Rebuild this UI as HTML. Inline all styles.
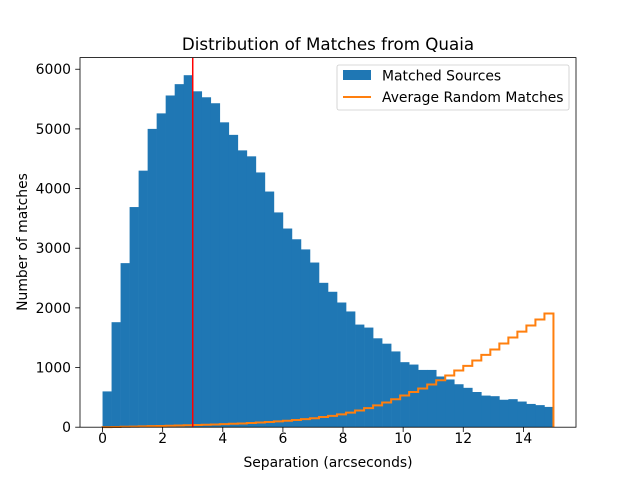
<!DOCTYPE html>
<html><head><meta charset="utf-8"><style>
body{margin:0;background:#fff;}
text{font-family:"DejaVu Sans","Liberation Sans",sans-serif;fill:#000;}
</style></head><body>
<svg id="chart" width="640" height="480" viewBox="0 0 640 480">
<rect x="0" y="0" width="640" height="480" fill="#fff"/>
<g id="bars"></g>
<path id="randline" fill="none" stroke="#ff7f0e" stroke-width="2" stroke-linejoin="miter"/>
<line id="vline" stroke="#ff0000" stroke-width="1.5"/>
<rect x="80" y="57.6" width="496" height="369.6" fill="none" stroke="#000" stroke-width="0.8"/>
<g id="xticks"></g>
<g id="yticks"></g>
<text x="328" y="50" font-size="16.7" text-anchor="middle">Distribution of Matches from Quaia</text>
<text x="328" y="467" font-size="13.9" text-anchor="middle">Separation (arcseconds)</text>
<text transform="translate(27,242) rotate(-90)" font-size="13.9" text-anchor="middle">Number of matches</text>
<g>
<rect x="337" y="65" width="232" height="45" rx="2" fill="#fff" fill-opacity="0.8" stroke="#ccc" stroke-width="0.8"/>
<rect x="343" y="70" width="28" height="10" fill="#1f77b4"/>
<text x="382" y="80.5" font-size="13.9">Matched Sources</text>
<line x1="343" y1="97" x2="371" y2="97" stroke="#ff7f0e" stroke-width="2"/>
<text x="382" y="102" font-size="13.9">Average Random Matches</text>
</g>
</svg>
<script>
const matched=[600,1760,2750,3690,4300,5000,5260,5560,5750,5900,5630,5530,5430,5110,4900,4640,4540,4270,3950,3600,3330,3150,2980,2760,2420,2270,2090,1940,1720,1670,1490,1400,1270,1090,1050,960,960,850,800,720,660,590,530,520,460,470,430,390,370,340];
const randomMatches=[2,4,7,10,13,17,21,25,29,33,37,41,46,51,57,63,70,78,87,97,108,120,135,150,170,190,215,245,280,320,365,414,469,531,591,648,715,787,866,950,1027,1117,1212,1302,1402,1503,1603,1705,1805,1905];
const binStart=0, binWidth=0.3;
const xTicks=[0,2,4,6,8,10,12,14];
const yTicks=[0,1000,2000,3000,4000,5000,6000];
const threshold=3;
const NS='http://www.w3.org/2000/svg';
const maxV=Math.max(...matched,...randomMatches)*1.05;
const X=v=>80+(v+0.75)/16.5*496;
const Y=v=>427.2-v/maxV*369.6;
const bars=document.getElementById('bars');
matched.forEach((v,i)=>{
 const r=document.createElementNS(NS,'rect');
 const x0=X(binStart+i*binWidth),x1=X(binStart+(i+1)*binWidth);
 r.setAttribute('x',x0);r.setAttribute('width',x1-x0+0.3);
 r.setAttribute('y',Y(v));r.setAttribute('height',Y(0)-Y(v));
 r.setAttribute('fill','#1f77b4');
 
 
 bars.appendChild(r);
});
let d='M'+X(binStart)+','+Y(0);
randomMatches.forEach((v,i)=>{d+=' L'+X(binStart+i*binWidth)+','+Y(v)+' L'+X(binStart+(i+1)*binWidth)+','+Y(v);});
d+=' L'+X(binStart+randomMatches.length*binWidth)+','+Y(0);
document.getElementById('randline').setAttribute('d',d);
const vl=document.getElementById('vline');
vl.setAttribute('x1',X(threshold));vl.setAttribute('x2',X(threshold));
vl.setAttribute('y1',57.6);vl.setAttribute('y2',427.2);
const xg=document.getElementById('xticks');
xTicks.forEach(t=>{
 const l=document.createElementNS(NS,'line');
 l.setAttribute('x1',X(t));l.setAttribute('x2',X(t));l.setAttribute('y1',427.2);l.setAttribute('y2',432);
 l.setAttribute('stroke','#000');l.setAttribute('stroke-width','0.8');
 
 
 xg.appendChild(l);
 const tx=document.createElementNS(NS,'text');
 tx.setAttribute('x',X(t));tx.setAttribute('y',443);tx.setAttribute('font-size','13.9');tx.setAttribute('text-anchor','middle');
 tx.textContent=t;
 
 
 xg.appendChild(tx);
});
const yg=document.getElementById('yticks');
yTicks.forEach(t=>{
 const l=document.createElementNS(NS,'line');
 l.setAttribute('x1',75.2);l.setAttribute('x2',80);l.setAttribute('y1',Y(t));l.setAttribute('y2',Y(t));
 l.setAttribute('stroke','#000');l.setAttribute('stroke-width','0.8');
 
 
 yg.appendChild(l);
 const tx=document.createElementNS(NS,'text');
 tx.setAttribute('x',71);tx.setAttribute('y',Y(t)+5);tx.setAttribute('font-size','13.9');tx.setAttribute('text-anchor','end');
 tx.textContent=t;
 
 
 yg.appendChild(tx);
});
</script>
</body></html>
